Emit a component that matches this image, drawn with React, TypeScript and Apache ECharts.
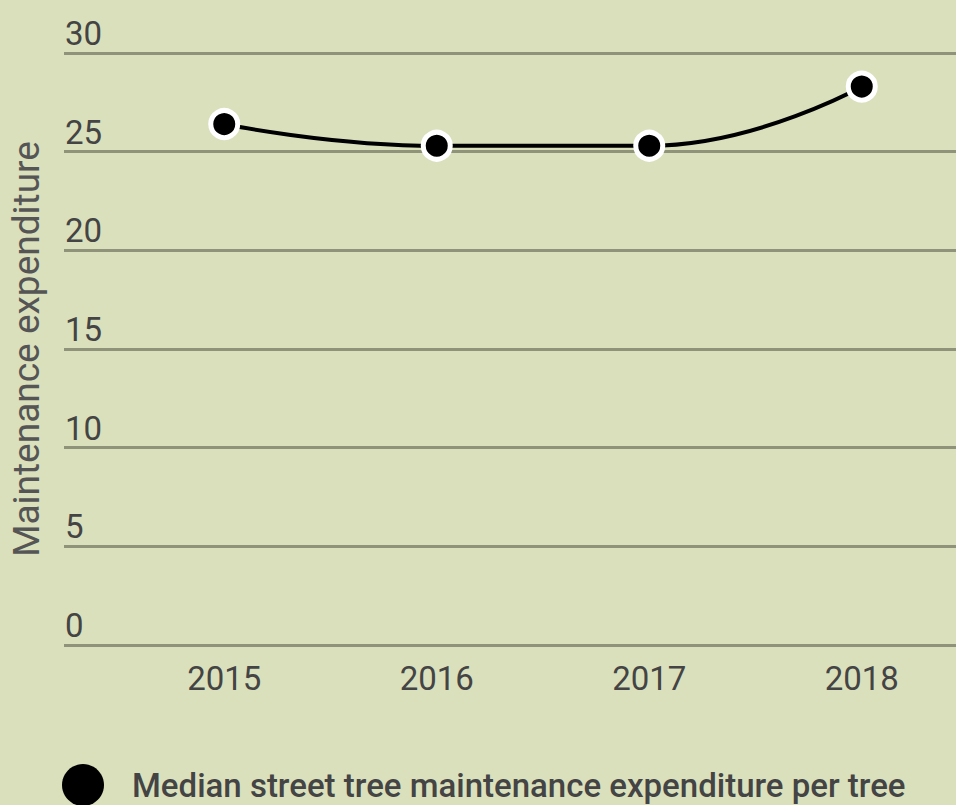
import React, { useEffect, useRef } from "react";
import * as echarts from "echarts";

const years = [2015, 2016, 2017, 2018];
const values = [26.4, 25.3, 25.3, 28.3];
const yTicks = [0, 5, 10, 15, 20, 25, 30];
const seriesName = "Median street tree maintenance expenditure per tree";
const yAxisName = "Maintenance expenditure";

export default function App() {
  const ref = useRef<HTMLDivElement>(null);
  useEffect(() => {
    document.body.style.margin = "0";
    const chart = echarts.init(ref.current!, null, { renderer: "svg" });
    const font = "Roboto";
    chart.setOption({
      animation: false,
      backgroundColor: "#dae0bc",
      textStyle: { fontFamily: font },
      grid: { left: 64, right: 0, top: 53, bottom: 160 },
      legend: {
        left: 62,
        top: 764,
        padding: 0,
        icon: "circle",
        itemWidth: 42,
        itemHeight: 42,
        itemStyle: { color: "#000", borderWidth: 0 },
        textStyle: {
          fontSize: 33,
          fontWeight: 500,
          color: "#444",
          fontFamily: font,
          padding: [0, 0, 0, 23],
        },
        data: [seriesName],
      },
      xAxis: {
        type: "value",
        min: 2014.2459,
        max: 2018.4435,
        axisLine: { show: false },
        axisTick: { show: false },
        splitLine: { show: false },
        axisLabel: {
          customValues: years,
          formatter: (v: number) => String(v),
          fontSize: 33,
          color: "#444",
          margin: 17,
          fontFamily: font,
          showMinLabel: true,
          showMaxLabel: true,
        },
      },
      yAxis: {
        type: "value",
        min: yTicks[0],
        max: yTicks[yTicks.length - 1],
        interval: 5,
        axisLine: { show: false },
        axisTick: { show: false },
        axisLabel: {
          inside: true,
          margin: 1,
          verticalAlign: "bottom",
          lineHeight: 33,
          padding: [0, 0, 3, 0],
          fontSize: 33,
          color: "#444",
          fontFamily: font,
        },
        splitLine: { lineStyle: { color: "#8f937a", width: 3 } },
        name: yAxisName,
        nameLocation: "middle",
        nameGap: 19,
        nameTextStyle: { fontSize: 37, color: "#555", fontFamily: font },
      },
      series: [
        {
          name: seriesName,
          type: "line",
          data: years.map((y, i) => [y, values[i]]),
          smooth: true,
          smoothMonotone: "x",
          symbol: "circle",
          symbolSize: 27,
          lineStyle: { color: "#000", width: 4 },
          itemStyle: { color: "#000", borderColor: "#fff", borderWidth: 5 },
        },
      ],
    });
    return () => chart.dispose();
  }, []);
  return <div ref={ref} style={{ width: 956, height: 805 }} />;
}
